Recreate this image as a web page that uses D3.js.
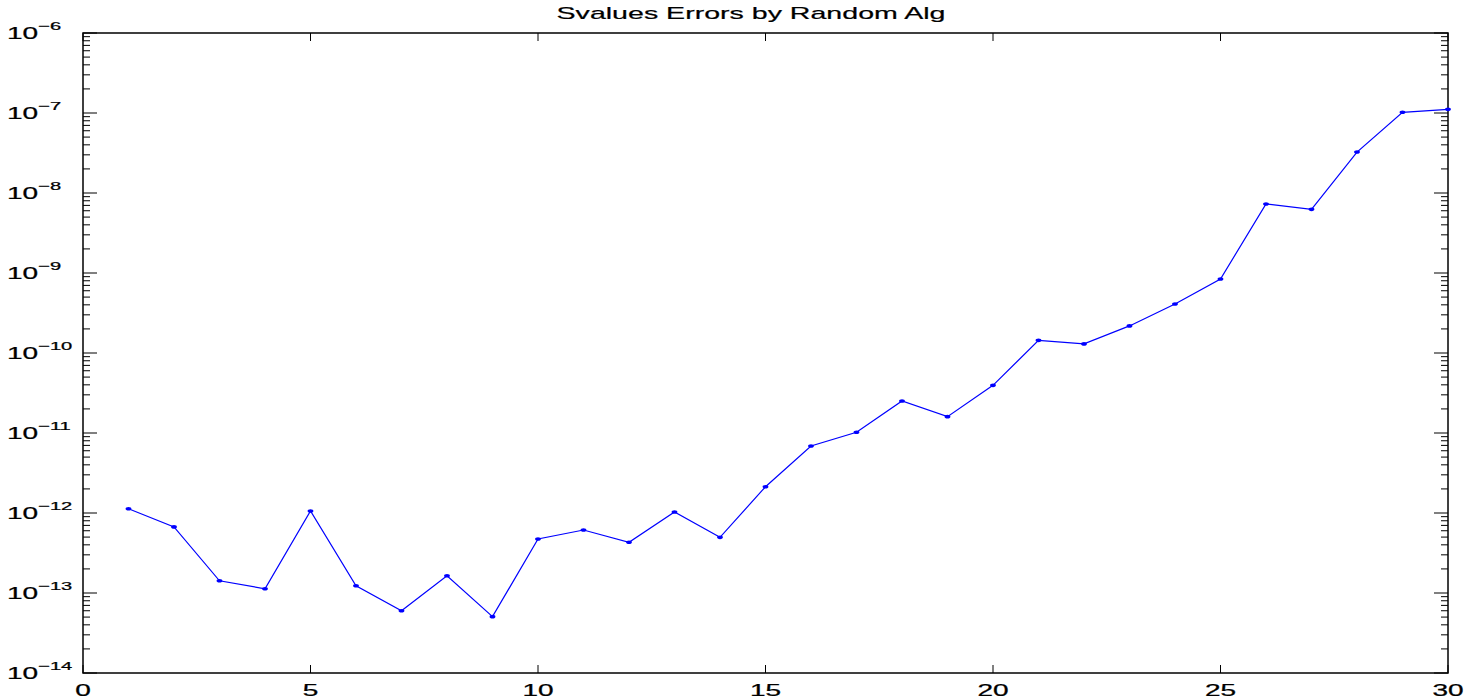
<!DOCTYPE html>
<html>
<head>
<meta charset="utf-8">
<script src="https://cdn.jsdelivr.net/npm/d3@7"></script>
<style>
  html, body { margin: 0; padding: 0; background: #fff; }
  svg { display: block; }
  text { font-family: "Liberation Sans", Arial, Helvetica, sans-serif; fill: #000; }
</style>
</head>
<body>
<svg id="chart" width="1466" height="699"></svg>
<script>
// Problem size index
const sizes = [1, 2, 3, 4, 5, 6, 7, 8, 9, 10, 11, 12, 13, 14, 15,
               16, 17, 18, 19, 20, 21, 22, 23, 24, 25, 26, 27, 28, 29, 30];
// Singular value error of the randomized algorithm
const errors = [1.13e-12, 6.7e-13, 1.42e-13, 1.13e-13, 1.06e-12, 1.23e-13, 6.0e-14, 1.64e-13, 5.06e-14, 4.73e-13,
                6.13e-13, 4.30e-13, 1.03e-12, 4.96e-13, 2.13e-12, 6.88e-12, 1.02e-11, 2.51e-11, 1.60e-11, 3.94e-11,
                1.44e-10, 1.30e-10, 2.18e-10, 4.10e-10, 8.41e-10, 7.29e-9, 6.25e-9, 3.25e-8, 1.02e-7, 1.11e-7];
const xTicks = [0, 5, 10, 15, 20, 25, 30];
const yExponents = [-14, -13, -12, -11, -10, -9, -8, -7, -6];
const title = "Svalues Errors by Random Alg";

(function draw() {
  const svg = d3.select("#chart");
  const pLeft = 83, pRight = 1448, pTop = 33, pBottom = 673;
  const sx = 1.75;        // horizontal stretch of the lettering
  const titleSx = 1.68;

  const x = d3.scaleLinear().domain([0, 30]).range([pLeft, pRight]);
  const y = d3.scaleLog().domain([1e-14, 1e-6]).range([pBottom, pTop]);

  const axes = svg.append("g").attr("stroke", "#000").attr("fill", "none");

  // Minor log ticks (2..9 within each decade), left and right
  const minor = [];
  for (let e = -14; e < -6; e++) for (let k = 2; k <= 9; k++) minor.push(k * Math.pow(10, e));
  minor.forEach(v => {
    const yy = y(v);
    axes.append("line").attr("x1", pLeft).attr("x2", pLeft + 7).attr("y1", yy).attr("y2", yy).attr("stroke-width", 1);
    axes.append("line").attr("x1", pRight).attr("x2", pRight - 7).attr("y1", yy).attr("y2", yy).attr("stroke-width", 1);
  });
  // Major decade ticks
  yExponents.forEach(e => {
    const yy = y(Math.pow(10, e));
    axes.append("line").attr("x1", pLeft).attr("x2", pLeft + 14).attr("y1", yy).attr("y2", yy).attr("stroke-width", 1);
    axes.append("line").attr("x1", pRight).attr("x2", pRight - 14).attr("y1", yy).attr("y2", yy).attr("stroke-width", 1);
  });
  // X ticks, bottom and top
  xTicks.forEach(t => {
    const xx = x(t);
    axes.append("line").attr("x1", xx).attr("x2", xx).attr("y1", pBottom).attr("y2", pBottom - 8).attr("stroke-width", 1);
    axes.append("line").attr("x1", xx).attr("x2", xx).attr("y1", pTop).attr("y2", pTop + 8).attr("stroke-width", 1);
  });
  // Box
  axes.append("rect").attr("x", pLeft).attr("y", pTop).attr("width", pRight - pLeft).attr("height", pBottom - pTop)
    .attr("stroke-width", 1.5);

  // Y tick labels: 10 with superscript exponent
  yExponents.forEach(e => {
    const g = svg.append("g").attr("transform", `translate(7,${y(Math.pow(10, e)) + 6}) scale(${sx},1)`);
    const t = g.append("text").attr("font-size", 16).attr("text-anchor", "start")
      .attr("stroke", "#000").attr("stroke-width", 0.25);
    t.append("tspan").text("10");
    t.append("tspan").attr("dy", -9.5).attr("font-size", 11.5).text("\u2212" + Math.abs(e));
  });

  // X tick labels
  xTicks.forEach(tv => {
    svg.append("g").attr("transform", `translate(${x(tv)},${pBottom + 23}) scale(${sx},1)`)
      .append("text").attr("font-size", 16).attr("text-anchor", "middle")
      .attr("stroke", "#000").attr("stroke-width", 0.25).text(tv);
  });

  // Title, centred a little left of the plot middle
  svg.append("g").attr("transform", `translate(751,19) scale(${titleSx},1)`)
    .append("text").attr("font-size", 17).attr("text-anchor", "middle")
    .attr("stroke", "#000").attr("stroke-width", 0.2).text(title);

  // Data line with point markers
  const pts = sizes.map((s, i) => [s, errors[i]]);
  const line = d3.line().x(d => x(d[0])).y(d => y(d[1]));
  svg.append("path").datum(pts).attr("d", line)
    .attr("fill", "none").attr("stroke", "#0000ff").attr("stroke-width", 1.2);
  svg.append("g").selectAll("ellipse").data(pts).join("ellipse")
    .attr("cx", d => x(d[0])).attr("cy", d => y(d[1]))
    .attr("rx", 2.9).attr("ry", 1.8).attr("fill", "#0000ff");
})();
</script>
</body>
</html>
